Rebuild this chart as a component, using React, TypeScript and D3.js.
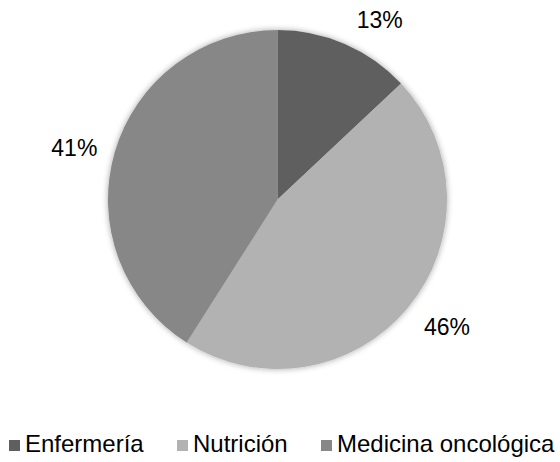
import React from "react";
import * as d3 from "d3";

const categories = ["Enfermería", "Nutrición", "Medicina oncológica"];
const values = [13, 46, 41];
const labels = ["13%", "46%", "41%"];
const colors = ["#5f5f5f", "#b2b2b2", "#878787"];

const W = 560;
const H = 462;
const cx = 277.5;
const cy = 199.5;
const r = 169.5;

export default function App() {
  const pie = d3.pie<number>().sort(null).value((d) => d)(values);
  const arc = d3.arc<d3.PieArcDatum<number>>().innerRadius(0).outerRadius(r);
  const labelArc = d3.arc<d3.PieArcDatum<number>>().innerRadius(r + 40).outerRadius(r + 40);
  const labelNudge = [[19, 13], [8, -6], [-2, 7]];
  const legendX = [9, 177, 321];
  return (
    <svg width={W} height={H} style={{ position: "absolute", left: 0, top: 0, fontFamily: "'Liberation Sans', Arial, sans-serif" }}>
      <defs>
        <filter id="sh" x="-20%" y="-20%" width="140%" height="140%">
          <feGaussianBlur in="SourceAlpha" stdDeviation="3" />
          <feComponentTransfer><feFuncA type="linear" slope="0.35" /></feComponentTransfer>
          <feMerge><feMergeNode /><feMergeNode in="SourceGraphic" /></feMerge>
        </filter>
      </defs>
      <rect width={W} height={H} fill="#fff" />
      <g transform={`translate(${cx},${cy})`} filter="url(#sh)">
        {pie.map((p, i) => (
          <path key={i} d={arc(p) || ""} fill={colors[i]} />
        ))}
      </g>
      <g transform={`translate(${cx},${cy})`}>
        {pie.map((p, i) => {
          const [x, y] = labelArc.centroid(p);
          return (
            <text key={i} x={x + labelNudge[i][0]} y={y + labelNudge[i][1]} textAnchor="middle" dominantBaseline="central" fontSize={23} fill="#000">
              {labels[i]}
            </text>
          );
        })}
      </g>
      {categories.map((c, i) => (
        <g key={i}>
          <rect x={legendX[i]} y={440} width={11} height={11} fill={colors[i]} />
          <text x={legendX[i] + 16} y={452} fontSize={24} fill="#000">{c}</text>
        </g>
      ))}
    </svg>
  );
}
